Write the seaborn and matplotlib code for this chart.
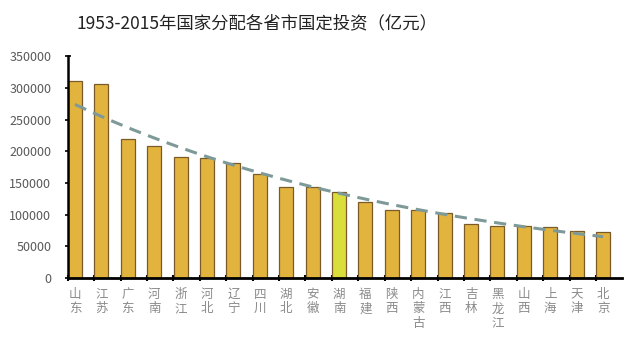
import numpy as np
import pandas as pd
import matplotlib
matplotlib.use("Agg")
import matplotlib.pyplot as plt
import seaborn as sns

provinces = ["山东", "江苏", "广东", "河南", "浙江", "河北", "辽宁", "四川", "湖北", "安徽", "湖南",
             "福建", "陕西", "内蒙古", "江西", "吉林", "黑龙江", "山西", "上海", "天津", "北京"]
values = [310000, 305500, 219000, 209000, 190500, 189000, 181000, 164000, 143000, 143000, 136000,
          119500, 107500, 108000, 102000, 85500, 82000, 82000, 80000, 74000, 73000]
highlight = "湖南"
title = "1953-2015年国家分配各省市国定投资（亿元）"
yticks = [0, 50000, 100000, 150000, 200000, 250000, 300000, 350000]

sns.set_theme(style="white")
plt.rcParams['font.family'] = ['Noto Sans CJK SC', 'DejaVu Sans']

fig = plt.figure(figsize=(6.4, 3.4), dpi=100)
ax = fig.add_axes([0.106, 0.182, 0.866, 0.653])

df = pd.DataFrame({"prov": provinces, "val": values})
palette = {p: ("#D9DE3A" if p == highlight else "#E2B43E") for p in provinces}
sns.barplot(data=df, x="prov", y="val", hue="prov", palette=palette, legend=False,
            width=0.53, edgecolor="#7A5A28", linewidth=0.9, saturation=1, ax=ax)

# exponential trendline fitted to the data
idx = np.arange(len(values))
b, ln_a = np.polyfit(idx, np.log(values), 1)
xs = np.linspace(0, len(values) - 1, 200)
ax.plot(xs, np.exp(ln_a + b * xs), linestyle=(0, (4, 2.5)), color="#7E9A98", linewidth=2.2, zorder=5)

ax.set_xlim(-0.27, len(values) - 1 + 0.72)
ax.set_ylim(0, 350000)
ax.set_yticks(yticks)
ax.set_yticklabels([str(v) for v in yticks], color="#595959", fontsize=9)
ax.set_xticks(idx)
ax.set_xticklabels(["\n".join(p) for p in provinces], color="#8A8A8A", fontsize=9,
                   linespacing=1.15, va="top")
ax.tick_params(axis="x", length=0, pad=7)
ax.tick_params(axis="y", length=4, width=1.2, direction="inout", color="black", left=True, pad=10)
ax.set_xticks(idx - 0.27, minor=True)
ax.tick_params(axis="x", which="minor", length=4, width=1.5, direction="inout", color="black", bottom=True)

for s in ["top", "right"]:
    ax.spines[s].set_visible(False)
ax.spines["left"].set_color("black")
ax.spines["left"].set_linewidth(1.8)
ax.spines["bottom"].set_color("black")
ax.spines["bottom"].set_linewidth(2.0)
ax.set_xlabel("")
ax.set_ylabel("")

fig.text(0.402, 0.93, title, ha="center", va="center", fontsize=12.5, color="#222222",
         family=['Noto Sans CJK SC', 'DejaVu Sans'])

fig.savefig("out.png", dpi=100, facecolor="white")
